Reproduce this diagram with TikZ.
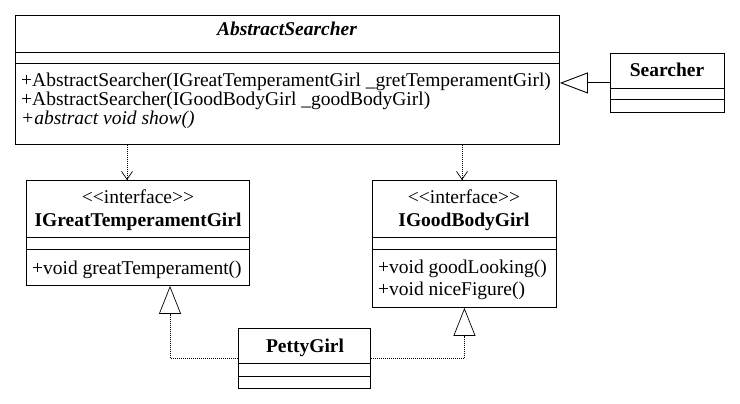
\documentclass[tikz,border=0pt]{standalone}
\usepackage{fontspec}
\setmainfont{Liberation Serif}
\usetikzlibrary{arrows.meta, positioning, calc}

\tikzset{
  umlbox/.style={draw, line width=0.9pt, anchor=north west, inner sep=0pt},
  member/.style={anchor=base west, inner sep=0pt},
  boxtitle/.style={anchor=base, inner sep=0pt, font=\fontsize{19.5}{18.5}\selectfont\bfseries},
  stereo/.style={anchor=base, inner sep=0pt},
  divider/.style={line width=0.9pt},
  depend/.style={-{Straight Barb[length=8pt, width=11pt]}, line width=0.7pt, dash pattern=on 1pt off 1pt},
  realize/.style={-{Triangle[open, length=28pt, width=22pt]}, line width=0.7pt, dash pattern=on 1pt off 1pt},
  inherit/.style={-{Triangle[open, length=28pt, width=21pt]}, line width=0.9pt},
}

\begin{document}
\begin{tikzpicture}[x=1pt, y=-1pt, font=\fontsize{19.5}{18.5}\selectfont]
    \useasboundingbox (0,0) rectangle (740,404);

    % abstract class
    \node[umlbox, minimum width=544, minimum height=129] (abs) at (15,15) {};
    \draw[divider] (abs.west |- 0,52) -- (abs.east |- 0,52);
    \draw[divider] (abs.west |- 0,63) -- (abs.east |- 0,63);
    \node[boxtitle, font=\fontsize{19.5}{18.5}\selectfont\bfseries\itshape] (absname) at (287,36) {AbstractSearcher};
    \node[member] (absop1) at (21,87) {+AbstractSearcher(IGreatTemperamentGirl \_gretTemperamentGirl)};
    \node[member] (absop2) at (21,106) {+AbstractSearcher(IGoodBodyGirl \_goodBodyGirl)};
    \node[member, font=\fontsize{19.5}{18.5}\selectfont\itshape] (absop3) at (21,124.5) {+abstract void show()};

    % concrete searcher
    \node[umlbox, minimum width=114, minimum height=59] (searcher) at (610,53) {};
    \draw[divider] (searcher.west |- 0,88) -- (searcher.east |- 0,88);
    \draw[divider] (searcher.west |- 0,99) -- (searcher.east |- 0,99);
    \node[boxtitle] (searchername) at (667,76.5) {Searcher};

    % interfaces
    \node[umlbox, minimum width=223, minimum height=105] (igreat) at (26,180) {};
    \draw[divider] (igreat.west |- 0,237) -- (igreat.east |- 0,237);
    \draw[divider] (igreat.west |- 0,249) -- (igreat.east |- 0,249);
    \node[stereo] (igreatstereo) at (138,203) {{<}{<}interface{>}{>}};
    \node[boxtitle] (igreatname) at (138,226) {IGreatTemperamentGirl};
    \node[member] (igreatop1) at (32,274) {+void greatTemperament()};

    \node[umlbox, minimum width=184, minimum height=127] (igood) at (372,180) {};
    \draw[divider] (igood.west |- 0,237) -- (igood.east |- 0,237);
    \draw[divider] (igood.west |- 0,249) -- (igood.east |- 0,249);
    \node[stereo] (igoodstereo) at (464,203) {{<}{<}interface{>}{>}};
    \node[boxtitle] (igoodname) at (464,226) {IGoodBodyGirl};
    \node[member] (igoodop1) at (378,273) {+void goodLooking()};
    \node[member] (igoodop2) at (378,295) {+void niceFigure()};

    % implementing class
    \node[umlbox, minimum width=132, minimum height=60] (petty) at (238,328) {};
    \draw[divider] (petty.west |- 0,363) -- (petty.east |- 0,363);
    \draw[divider] (petty.west |- 0,376) -- (petty.east |- 0,376);
    \node[boxtitle] (pettyname) at (305,352.5) {PettyGirl};

    % relations
    \coordinate (dleft) at (127,0);
    \coordinate (dright) at (462,0);
    \coordinate (rleft) at (170,0);
    \draw[inherit] (searcher.west) -- (searcher.west -| abs.east);
    \draw[depend] (abs.south -| dleft) -- (igreat.north -| dleft);
    \draw[depend] (abs.south -| dright) -- (igood.north -| dright);
    \draw[realize] (petty.west) -| (igreat.south -| rleft);
    \draw[realize] (petty.east) -| (igood.south);
\end{tikzpicture}
\end{document}
